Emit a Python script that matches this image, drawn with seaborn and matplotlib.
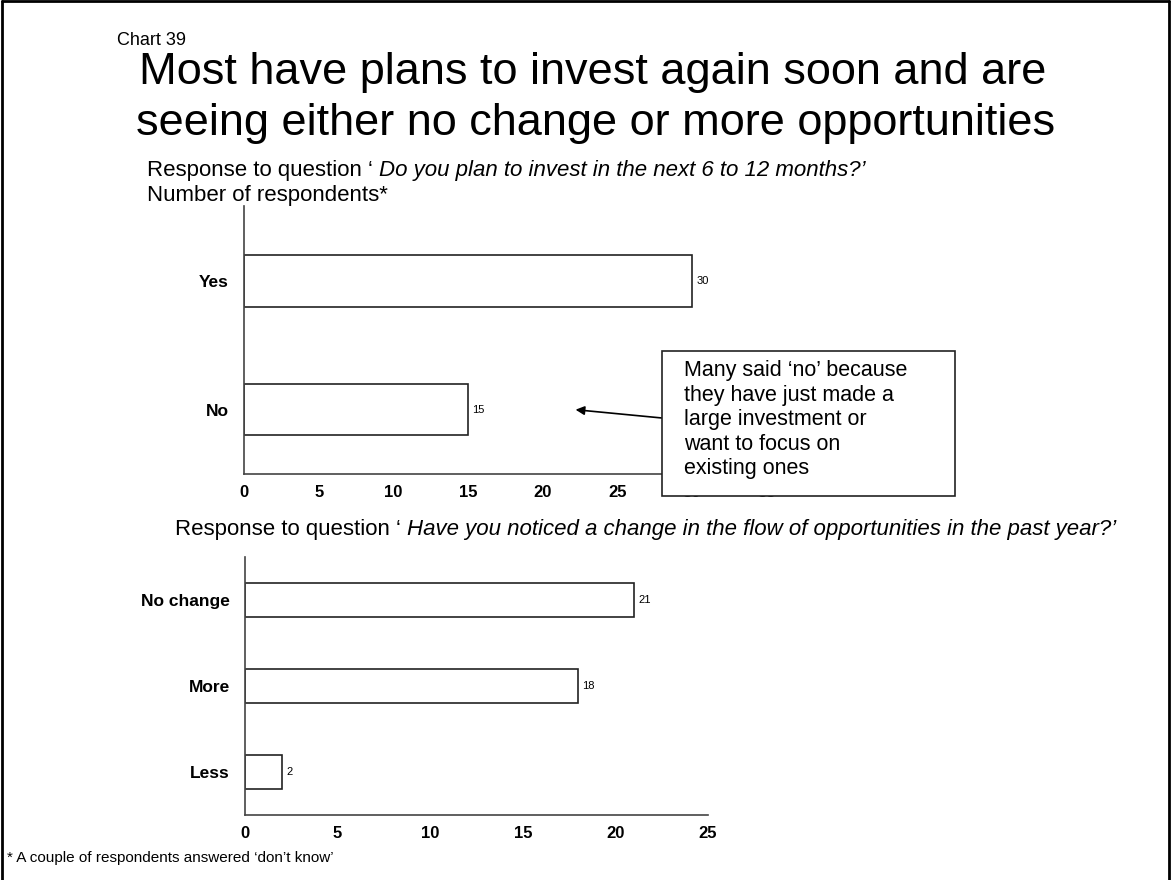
import matplotlib
matplotlib.use("Agg")
import matplotlib.pyplot as plt
from matplotlib.patches import Rectangle
from matplotlib.lines import Line2D
import seaborn as sns
import pandas as pd

# Survey responses
plan_categories = ["Yes", "No"]
plan_counts = [30, 15]
flow_categories = ["No change", "More", "Less"]
flow_counts = [21, 18, 2]
plan_xticks = [0, 5, 10, 15, 20, 25, 30, 35]
flow_xticks = [0, 5, 10, 15, 20, 25]

sns.set_style("white")
plt.rcParams["font.family"] = ["Liberation Sans", "DejaVu Sans"]
plt.rcParams["text.color"] = "black"
plt.rcParams["xtick.color"] = "black"
plt.rcParams["ytick.color"] = "black"
plt.rcParams["axes.labelcolor"] = "black"

W, H = 1172, 880
fig = plt.figure(figsize=(W / 100, H / 100), dpi=100)


def fx(x):
    return x / W


def fy(y):
    return 1 - y / H


def style_axis(ax, ticks, xmax, ymin, ymax, n):
    ax.set_xlim(0, xmax)
    ax.set_ylim(ymax, ymin)
    ax.set_xticks(ticks)
    ax.set_xticklabels([str(t) for t in ticks], fontsize=12, fontweight="bold")
    ax.set_ylabel("")
    ax.set_xlabel("")
    ax.tick_params(axis="x", direction="out", length=4, width=1, color="#444444", pad=4)
    ax.tick_params(axis="y", which="major", length=0, pad=11)
    for lab in ax.get_yticklabels():
        lab.set_fontweight("bold")
        lab.set_fontsize(12.5)
    ax.set_yticks([ymin] + [i + 0.5 for i in range(n)], minor=True)
    ax.tick_params(axis="y", which="minor", direction="out", length=4, width=1, color="#444444")
    sns.despine(ax=ax)
    for s in ("left", "bottom"):
        ax.spines[s].set_color("#444444")
        ax.spines[s].set_linewidth(1.2)
    ax.grid(False)


# Upper chart: plans to invest
ax1 = fig.add_axes([fx(244), fy(474), fx(766.7) - fx(244), fy(206.5) - fy(474)])
df1 = pd.DataFrame({"answer": plan_categories, "count": plan_counts})
sns.barplot(data=df1, x="count", y="answer", orient="h", color="white",
            edgecolor="#222222", linewidth=1.2, width=0.4, ax=ax1, zorder=2)
style_axis(ax1, plan_xticks, 35, -0.58, 1.5, 2)
for c in ax1.containers:
    ax1.bar_label(c, fmt="%d", padding=3, fontsize=8)

# Lower chart: flow of opportunities
ax2 = fig.add_axes([fx(245), fy(815), fx(708) - fx(245), fy(557) - fy(815)])
df2 = pd.DataFrame({"answer": flow_categories, "count": flow_counts})
sns.barplot(data=df2, x="count", y="answer", orient="h", color="white",
            edgecolor="#222222", linewidth=1.2, width=0.4, ax=ax2, zorder=2)
style_axis(ax2, flow_xticks, 25, -0.5, 2.5, 3)
for c in ax2.containers:
    ax2.bar_label(c, fmt="%d", padding=3, fontsize=8)

# Headings
fig.text(fx(117), fy(45), "Chart 39", fontsize=13, va="baseline")
fig.text(fx(593), fy(84), "Most have plans to invest again soon and are",
         fontsize=32.5, ha="center", va="baseline")
fig.text(fx(596), fy(135), "seeing either no change or more opportunities",
         fontsize=32.5, ha="center", va="baseline")

sub_size = 16
# plain lead-in followed by the question in italics, sharing one bottom edge
t1 = fig.text(fx(147), fy(176), "Response to question \u2018 ", fontsize=sub_size, va="baseline")
ax1.annotate("Do you plan to invest in the next 6 to 12 months?\u2019", xy=(1, 0),
             xycoords=t1, fontsize=sub_size, style="italic", va="bottom",
             ha="left", annotation_clip=False)
fig.text(fx(147), fy(201), "Number of respondents*", fontsize=sub_size, va="baseline")
t2 = fig.text(fx(175), fy(535), "Response to question \u2018 ", fontsize=sub_size, va="baseline")
ax1.annotate("Have you noticed a change in the flow of opportunities in the past year?\u2019",
             xy=(1, 0), xycoords=t2, fontsize=sub_size, style="italic", va="bottom",
             ha="left", annotation_clip=False)
fig.text(fx(7), fy(862), "* A couple of respondents answered \u2018don\u2019t know\u2019",
         fontsize=11, va="baseline")

# Callout box with arrow pointing at the "No" bar
box = Rectangle((fx(662), fy(496)), fx(955) - fx(662), fy(351) - fy(496),
                transform=fig.transFigure, facecolor="white", edgecolor="#222222",
                linewidth=1.2, zorder=5)
fig.add_artist(box)
fig.text(fx(684), fy(360),
         "Many said \u2018no\u2019 because\nthey have just made a\nlarge investment or\n"
         "want to focus on\nexisting ones",
         fontsize=15.5, va="top", ha="left", linespacing=1.22, zorder=6)
ax1.annotate("", xy=(22.2, 1.0), xycoords="data",
             xytext=(fx(662), fy(418)), textcoords="figure fraction",
             arrowprops=dict(arrowstyle="-|>", color="black", lw=1.2,
                             mutation_scale=13, shrinkA=0, shrinkB=0),
             annotation_clip=False)

# Page frame
for xs, ys in [((fx(1.5), fx(1.5)), (0, fy(1.5))),
               ((fx(1.5), fx(1169)), (fy(1.5), fy(1.5))),
               ((fx(1169), fx(1169)), (fy(1.5), 0))]:
    fig.add_artist(Line2D(xs, ys, transform=fig.transFigure, color="black", lw=2))

fig.savefig("out.png", dpi=100)
